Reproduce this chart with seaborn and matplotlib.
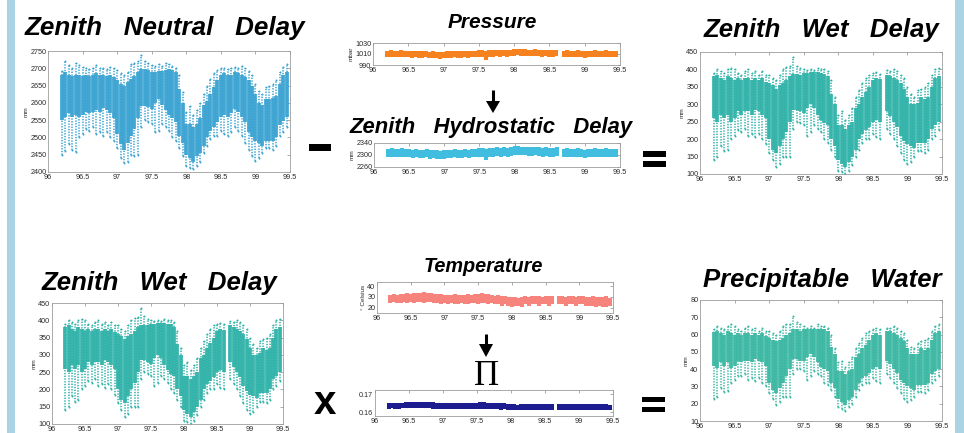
import numpy as np
import pandas as pd
import matplotlib
matplotlib.use("Agg")
import matplotlib.pyplot as plt
from matplotlib.patches import Rectangle, Polygon
import seaborn as sns

nan = np.nan

# Day of year (UTC), sampled every 0.05 day
days = [96.20, 96.25, 96.30, 96.35, 96.40, 96.45, 96.50, 96.55, 96.60, 96.65,
        96.70, 96.75, 96.80, 96.85, 96.90, 96.95, 97.00, 97.05, 97.10, 97.15,
        97.20, 97.25, 97.30, 97.35, 97.40, 97.45, 97.50, 97.55, 97.60, 97.65,
        97.70, 97.75, 97.80, 97.85, 97.90, 97.95, 98.00, 98.05, 98.10, 98.15,
        98.20, 98.25, 98.30, 98.35, 98.40, 98.45, 98.50, 98.55, 98.60, 98.65,
        98.70, 98.75, 98.80, 98.85, 98.90, 98.95, 99.00, 99.05, 99.10, 99.15,
        99.20, 99.25, 99.30, 99.35, 99.40, 99.45]

# Zenith neutral delay (mm): extreme high, dense upper, dense lower, extreme low
znd_hi = [2693, 2722, 2710, 2700, 2715, 2710, 2705, 2700, 2698, 2700,
          2710, 2700, 2700, 2698, 2705, 2700, 2695, 2685, 2680, 2690,
          2712, 2716, 2720, 2737, 2722, 2715, 2710, 2708, 2712, 2708,
          2715, 2712, 2708, 2702, 2680, 2630, 2575, 2590, 2565, 2580,
          2600, 2625, 2650, 2668, 2685, 2695, 2700, 2702, 2698, 2700,
          2705, 2702, 2708, 2702, 2692, 2682, 2655, 2635, 2625, 2645,
          2650, 2655, 2665, 2690, 2705, 2712]
znd_chi = [2680, 2688, 2680, 2678, 2682, 2680, 2678, 2680, 2678, 2680,
           2685, 2680, 2682, 2678, 2682, 2675, 2665, 2655, 2650, 2660,
           2668, 2678, 2688, 2698, 2698, 2695, 2690, 2690, 2692, 2692,
           2695, 2698, 2695, 2688, 2640, 2600, 2540, 2540, 2530, 2540,
           2555, 2595, 2605, 2625, 2645, 2665, 2680, 2685, 2682, 2682,
           2688, 2685, 2680, 2675, 2665, 2650, 2625, 2600, 2595, 2610,
           2612, 2615, 2620, 2655, 2680, 2688]
znd_clo = [2550, 2560, 2570, 2560, 2565, 2560, 2565, 2575, 2570, 2575,
           2580, 2575, 2585, 2580, 2570, 2555, 2510, 2480, 2465, 2485,
           2505, 2525, 2555, 2592, 2592, 2588, 2583, 2600, 2610, 2595,
           2578, 2565, 2555, 2545, 2505, 2485, 2450, 2440, 2430, 2445,
           2455, 2475, 2500, 2520, 2530, 2545, 2560, 2565, 2560, 2570,
           2583, 2575, 2560, 2545, 2515, 2500, 2490, 2485, 2475, 2490,
           2490, 2490, 2500, 2535, 2548, 2560]
znd_lo = [2448, 2460, 2480, 2465, 2458, 2500, 2510, 2525, 2520, 2530,
          2510, 2515, 2505, 2515, 2500, 2490, 2470, 2440, 2425, 2430,
          2450, 2445, 2450, 2530, 2550, 2545, 2540, 2515, 2520, 2540,
          2530, 2520, 2500, 2490, 2470, 2445, 2418, 2412, 2410, 2418,
          2430, 2455, 2475, 2495, 2505, 2505, 2520, 2510, 2505, 2515,
          2530, 2520, 2505, 2485, 2465, 2445, 2432, 2440, 2455, 2470,
          2470, 2465, 2475, 2505, 2515, 2530]

# Zenith wet delay (mm)
zwd_hi = [390, 400, 395, 390, 400, 405, 400, 390, 385, 395,
          400, 390, 395, 385, 395, 385, 385, 375, 370, 385,
          400, 406, 410, 435, 411, 405, 400, 398, 400, 398,
          405, 402, 400, 395, 370, 320, 270, 280, 255, 270,
          290, 320, 340, 360, 375, 385, 390, 392, 388, nan,
          398, 395, 400, 395, 385, 375, 350, 330, 320, 340,
          345, 350, 360, 385, 400, 405]
zwd_chi = [380, 385, 375, 370, 380, 375, 370, 375, 370, 375,
           375, 370, 375, 370, 375, 365, 360, 355, 345, 355,
           360, 370, 380, 387, 387, 385, 390, 390, 392, 392,
           392, 390, 388, 380, 330, 300, 240, 240, 230, 240,
           250, 290, 300, 320, 335, 350, 370, 375, 372, nan,
           385, 380, 375, 370, 360, 345, 320, 300, 300, 305,
           320, 315, 320, 350, 375, 380]
zwd_clo = [260, 250, 270, 260, 270, 250, 260, 280, 270, 280,
           280, 270, 285, 280, 270, 260, 200, 170, 160, 180,
           200, 220, 250, 285, 285, 280, 275, 290, 300, 290,
           270, 255, 245, 240, 200, 180, 140, 130, 120, 135,
           150, 170, 200, 215, 225, 235, 250, 255, 250, nan,
           280, 265, 250, 235, 210, 195, 185, 180, 175, 190,
           190, 190, 200, 230, 240, 250]
zwd_lo = [140, 150, 180, 165, 170, 200, 210, 225, 220, 230,
          210, 215, 205, 215, 200, 185, 160, 140, 120, 130,
          150, 150, 150, 230, 250, 245, 240, 210, 220, 240,
          230, 220, 200, 190, 170, 150, 110, 105, 100, 110,
          125, 150, 170, 190, 200, 200, 215, 205, 200, nan,
          230, 215, 200, 180, 160, 140, 130, 135, 150, 165,
          165, 160, 170, 200, 210, 225]

# Precipitable water (mm)
pw_hi = [63, 65, 64, 63, 65, 66, 65, 63, 62, 64,
         65, 63, 64, 62, 64, 62, 62, 61, 60, 62,
         65, 66, 66, 71, 67, 66, 65, 64, 65, 64,
         66, 65, 65, 64, 60, 52, 44, 45, 41, 44,
         47, 52, 55, 58, 61, 62, 63, 64, 63, nan,
         64, 64, 65, 64, 62, 61, 57, 53, 52, 55,
         56, 57, 58, 62, 65, 66]
pw_chi = [61.5, 62, 61, 60, 62, 61, 60, 61, 60, 61,
          61, 60, 61, 60, 61, 59, 58, 57, 56, 57,
          58, 60, 61, 63, 63, 62, 63, 63, 63, 63,
          63, 63, 63, 62, 53, 49, 39, 39, 37, 39,
          40, 47, 49, 52, 54, 57, 60, 61, 60, nan,
          62, 62, 61, 60, 58, 56, 52, 49, 49, 49,
          52, 51, 52, 57, 61, 62]
pw_clo = [42, 40.5, 44, 42, 44, 40.5, 42, 45, 44, 45,
          45, 44, 46, 45, 44, 42, 32, 28, 26, 29,
          32, 36, 40, 46, 46, 45, 45, 47, 49, 47,
          44, 41, 40, 39, 32, 29, 23, 21, 19.5, 22,
          24, 28, 32, 35, 36, 38, 40, 41, 40, nan,
          45, 43, 40, 38, 34, 32, 30, 29, 28, 31,
          31, 31, 32, 37, 39, 40]
pw_lo = [23, 24, 29, 27, 27.5, 32, 34, 36, 36, 37,
         34, 35, 33, 35, 32, 30, 26, 23, 19, 21,
         24, 24, 24, 37, 40, 40, 39, 34, 36, 39,
         37, 36, 32, 31, 28, 24, 18, 17, 16, 18,
         20, 24, 28, 31, 32, 32, 35, 33, 32, nan,
         37, 35, 32, 29, 26, 23, 21, 22, 24, 27,
         27, 26, 28, 32, 34, 36]

# Surface pressure (mbar)
pressure_lo = [1004, 1005, 1004, 1004, 1005, 1004, 1004,
               1003, 1004, 1003, 1003, 1004,
               1002, 1003, 1002, 1001, 1002,
               1003, 1003, 1004, 1003, 1003, 1004, 1003,
               1004, 1004, 1005, 1004,
               1000,
               1005, 1005, 1006, 1005, 1006, 1005,
               1006,
               1007, 1008, 1007, 1007,
               1006, 1006, 1007, 1006,
               1005, 1006, 1005, 1005, 1006,
               nan,
               1004, 1005, 1004, 1004, 1005, 1004, 1003, 1004,
               1004, 1005, 1004, 1004, 1005, 1004, 1004, 1004]
pressure_hi = [1016, 1017, 1016, 1016, 1017, 1016, 1016,
               1015, 1016, 1015, 1015, 1016,
               1014, 1015, 1014, 1013, 1014,
               1015, 1015, 1016, 1015, 1015, 1016, 1015,
               1016, 1016, 1017, 1017,
               1016,
               1017, 1017, 1018, 1017, 1018, 1017,
               1018,
               1020, 1020, 1019, 1019,
               1018, 1018, 1019, 1018,
               1017, 1018, 1017, 1017, 1018,
               nan,
               1016, 1017, 1016, 1016, 1017, 1016, 1015, 1016,
               1016, 1017, 1016, 1016, 1017, 1016, 1016, 1016]

# Zenith hydrostatic delay (mm)
zhd_lo = [2292, 2294, 2292, 2292, 2294, 2292, 2292,
          2290, 2292, 2290, 2290, 2292,
          2287, 2290, 2287, 2285, 2287,
          2290, 2290, 2292, 2290, 2290, 2292, 2290,
          2292, 2292, 2294, 2292,
          2283,
          2294, 2294, 2297, 2294, 2297, 2294,
          2297,
          2299, 2301, 2299, 2299,
          2297, 2297, 2299, 2297,
          2294, 2297, 2294, 2294, 2297,
          nan,
          2292, 2294, 2292, 2292, 2294, 2292, 2290, 2292,
          2292, 2294, 2292, 2292, 2294, 2292, 2292, 2292]
zhd_hi = [2320, 2323, 2320, 2320, 2323, 2320, 2320,
          2318, 2320, 2318, 2318, 2320,
          2315, 2318, 2315, 2313, 2315,
          2318, 2318, 2320, 2318, 2318, 2320, 2318,
          2320, 2320, 2323, 2323,
          2320,
          2323, 2323, 2325, 2323, 2325, 2323,
          2325,
          2330, 2330, 2327, 2327,
          2325, 2325, 2327, 2325,
          2323, 2325, 2323, 2323, 2325,
          nan,
          2320, 2323, 2320, 2320, 2323, 2320, 2318, 2320,
          2320, 2323, 2320, 2320, 2323, 2320, 2320, 2320]

# Surface temperature (deg C)
temp_lo = [24, 25, 24, 24, 25,
           24, 25, 24, 25,
           25, 24, 25, 25, 24,
           24, 23, 24,
           23, 24, 23, 23, 24, 23, 23, 24,
           24, 23, 24, 24, 23, 24,
           23, 23, 22, 23,
           22, 21, 22, 22, 21,
           23, 22, 23, 23, 22, 23, 23, 22, 23,
           nan,
           23, 23, 22, 23, 23, 22, 23, 23, 22,
           22, 22, 21, 22,
           21, 21, 22]
temp_hi = [32, 33, 32, 33, 33,
           34, 33, 34, 34,
           34, 35, 34, 34, 33,
           33, 33, 32,
           32, 32, 33, 32, 32, 32, 33, 32,
           33, 33, 34, 33, 33, 32,
           31, 32, 31, 31,
           30, 30, 30, 29, 30,
           31, 30, 31, 31, 31, 30, 31, 31, 31,
           nan,
           31, 31, 30, 31, 31, 30, 31, 31, 30,
           30, 31, 30, 30,
           30, 31, 29]

# Conversion factor Pi (dimensionless)
pi_lo = [0.1620, 0.1622, 0.1620, 0.1621, 0.1622,
         0.1622, 0.1623, 0.1622, 0.1622,
         0.1623, 0.1622, 0.1623, 0.1622, 0.1621,
         0.1620, 0.1619, 0.1620,
         0.1618, 0.1619, 0.1618, 0.1618, 0.1619, 0.1618, 0.1618, 0.1619,
         0.1620, 0.1619, 0.1620, 0.1620, 0.1619, 0.1620,
         0.1617, 0.1617, 0.1616, 0.1617,
         0.1613, 0.1612, 0.1613, 0.1613, 0.1612,
         0.1615, 0.1614, 0.1615, 0.1615, 0.1614, 0.1615, 0.1615, 0.1614, 0.1615,
         nan,
         0.1615, 0.1615, 0.1614, 0.1615, 0.1615, 0.1614, 0.1615, 0.1615, 0.1614,
         0.1613, 0.1614, 0.1613, 0.1613,
         0.1613, 0.1612, 0.1613]
pi_hi = [0.1652, 0.1654, 0.1652, 0.1653, 0.1654,
         0.1658, 0.1656, 0.1658, 0.1657,
         0.1659, 0.1660, 0.1658, 0.1658, 0.1656,
         0.1655, 0.1654, 0.1653,
         0.1652, 0.1652, 0.1654, 0.1652, 0.1652, 0.1653, 0.1654, 0.1653,
         0.1655, 0.1655, 0.1657, 0.1656, 0.1655, 0.1654,
         0.1650, 0.1651, 0.1650, 0.1650,
         0.1645, 0.1645, 0.1646, 0.1644, 0.1645,
         0.1648, 0.1647, 0.1648, 0.1648, 0.1648, 0.1647, 0.1648, 0.1648, 0.1648,
         nan,
         0.1648, 0.1648, 0.1647, 0.1648, 0.1648, 0.1647, 0.1648, 0.1648, 0.1647,
         0.1646, 0.1647, 0.1646, 0.1646,
         0.1646, 0.1647, 0.1644]

x_ticks = [96, 96.5, 97, 97.5, 98, 98.5, 99, 99.5]
x_labels = ["96", "96.5", "97", "97.5", "98", "98.5", "99", "99.5"]

W, H = 964, 433

sns.set_theme(style="white")
plt.rcParams["font.family"] = ["Liberation Sans", "DejaVu Sans"]

fig = plt.figure(figsize=(W / 100, H / 100), dpi=100)
fig.patch.set_facecolor("white")


def panel(box):
    l, t, r, b = box
    return fig.add_axes([l / W, 1 - b / H, (r - l) / W, (b - t) / H])


def style(ax, ylim, yticks, ylabels, ylabel):
    ax.set_xlim(96, 99.5)
    ax.set_ylim(*ylim)
    ax.set_xticks(x_ticks, x_labels)
    ax.set_yticks(yticks, ylabels)
    ax.tick_params(direction="in", length=2.2, width=0.5, top=True, right=True,
                   labelsize=5.2, pad=1.2, color="#8a8a8a", labelcolor="#2a2a2a")
    for s in ax.spines.values():
        s.set_color("#9c9c9c")
        s.set_linewidth(0.6)
    ax.set_xlabel("")
    ax.set_ylabel(ylabel, fontsize=4.6, labelpad=1.0, color="#2a2a2a")
    ax.set_facecolor("white")


def cloud(ax, hi, chi, clo, lo, color):
    df = pd.DataFrame({"day": days, "hi": hi, "chi": chi,
                       "clo": clo, "lo": lo}).dropna()
    # sparse outer samples as dotted streaks, dense core as a filled column
    ax.vlines(df["day"], df["lo"], df["hi"], colors=color, linewidth=1.1,
              linestyles=(0, (0.9, 0.9)))
    ax.vlines(df["day"], df["clo"], df["chi"], colors=color, linewidth=2.75,
              alpha=0.93)
    ends = df.melt(id_vars="day", value_vars=["hi", "lo"], value_name="v")
    sns.scatterplot(data=ends, x="day", y="v", ax=ax, color=color, s=2,
                    linewidth=0, legend=False)


def band(ax, hi, lo, color):
    df = pd.DataFrame({"day": days, "hi": hi, "lo": lo}).dropna()
    ax.vlines(df["day"], df["lo"], df["hi"], colors=color, linewidth=2.9)


def steps(a, b, s):
    return list(range(a, b + 1, s)), [str(v) for v in range(a, b + 1, s)]


# Zenith neutral delay
ax = panel((48, 51, 290, 172))
cloud(ax, znd_hi, znd_chi, znd_clo, znd_lo, "#3aa2d2")
style(ax, (2400, 2750), *steps(2400, 2750, 50), "mm")

# Pressure
ax = panel((373, 43, 620, 65))
band(ax, pressure_hi, pressure_lo, "#f5821f")
style(ax, (990, 1030), [990, 1010, 1030], ["990", "1010", "1030"], "mbar")

# Zenith hydrostatic delay
ax = panel((374, 143, 620, 167))
band(ax, zhd_hi, zhd_lo, "#41bde0")
style(ax, (2260, 2340), [2260, 2300, 2340], ["2260", "2300", "2340"], "mm")

# Zenith wet delay (top)
ax = panel((700, 52, 942, 174))
cloud(ax, zwd_hi, zwd_chi, zwd_clo, zwd_lo, "#2fb2a8")
style(ax, (100, 450), *steps(100, 450, 50), "mm")

# Zenith wet delay (bottom)
ax = panel((52, 303, 283, 424))
cloud(ax, zwd_hi, zwd_chi, zwd_clo, zwd_lo, "#2fb2a8")
style(ax, (100, 450), *steps(100, 450, 50), "mm")

# Temperature
ax = panel((377, 282, 613, 313))
band(ax, temp_hi, temp_lo, "#f7837d")
style(ax, (15, 44), [20, 30, 40], ["20", "30", "40"], "° Celsius")

# Pi
ax = panel((375, 390, 613, 416))
band(ax, pi_hi, pi_lo, "#1d1d8f")
style(ax, (0.158, 0.1725), [0.16, 0.17], ["0.16", "0.17"], "")

# Precipitable water
ax = panel((700, 300, 942, 421))
cloud(ax, pw_hi, pw_chi, pw_clo, pw_lo, "#3ab7a2")
style(ax, (10, 80), *steps(10, 80, 10), "mm")

# Overlay in pixel coordinates for titles and operators
ov = fig.add_axes([0, 0, 1, 1], zorder=5)
ov.set_xlim(0, W)
ov.set_ylim(H, 0)
ov.axis("off")
ov.patch.set_alpha(0)

strip = "#aad3e4"
ov.add_patch(Rectangle((7, 0), 8, H, color=strip, lw=0))
ov.add_patch(Rectangle((955, 0), 9, H, color=strip, lw=0))

big = dict(ha="center", va="baseline", fontweight="bold", fontstyle="italic",
           color="black")
ov.text(165, 35, "Zenith   Neutral   Delay", fontsize=18.7, **big)
ov.text(821, 37, "Zenith   Wet   Delay", fontsize=18.5, **big)
ov.text(159, 290, "Zenith   Wet   Delay", fontsize=18.5, **big)
ov.text(822, 287, "Precipitable   Water", fontsize=18.5, **big)
ov.text(492, 28, "Pressure", fontsize=15, **big)
ov.text(491, 133, "Zenith   Hydrostatic   Delay", fontsize=15.8, **big)
ov.text(483, 272, "Temperature", fontsize=14.3, **big)

# Arrows
ov.plot([493, 493], [90, 103], color="black", lw=2.2, solid_capstyle="butt")
ov.add_patch(Polygon([(486, 101), (500, 101), (493, 113)], color="black", lw=0))
ov.plot([486, 486], [334, 346], color="black", lw=2.2, solid_capstyle="butt")
ov.add_patch(Polygon([(479, 344), (493, 344), (486, 357)], color="black", lw=0))

ov.text(487, 385, "Π", family=["Liberation Serif", "DejaVu Serif"], fontsize=25,
        ha="center", va="baseline", color="black")

# Operators
ov.add_patch(Rectangle((309, 144), 22, 7, color="black", lw=0))
ov.add_patch(Rectangle((643, 151), 23, 6, color="black", lw=0))
ov.add_patch(Rectangle((643, 161), 23, 6, color="black", lw=0))
ov.add_patch(Rectangle((642, 397), 23, 5, color="black", lw=0))
ov.add_patch(Rectangle((642, 407), 23, 5, color="black", lw=0))
ov.text(325, 414, "x", fontsize=29, fontweight="bold", ha="center",
        va="baseline", color="black")

fig.savefig("out.png", dpi=100)
